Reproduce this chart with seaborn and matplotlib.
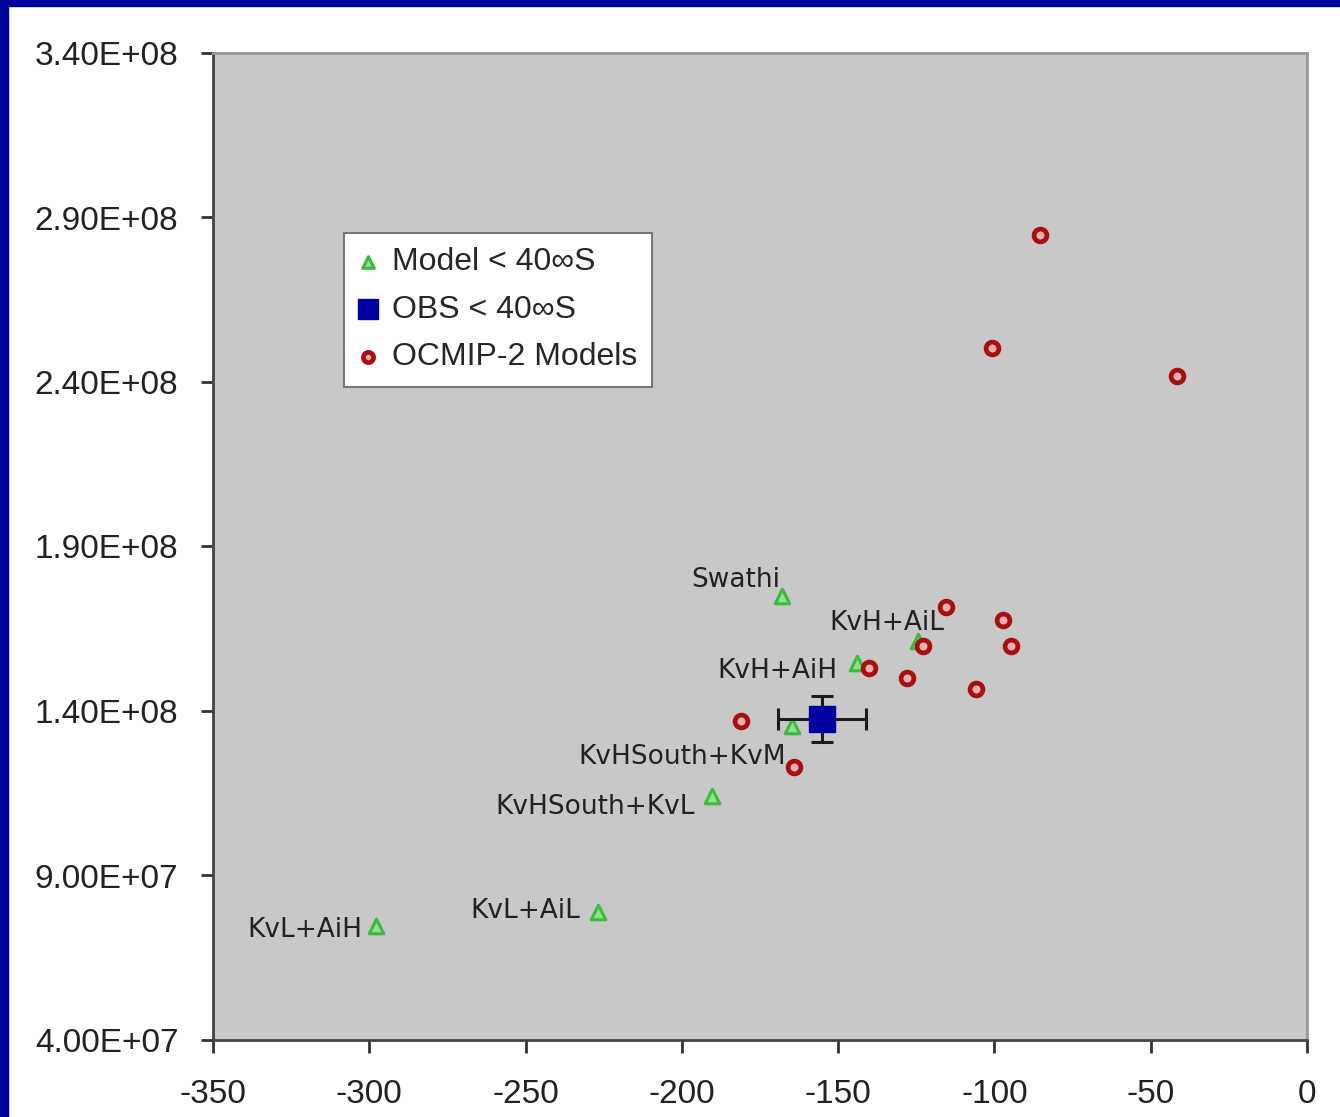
import seaborn as sns
import matplotlib.pyplot as plt
import matplotlib.patches as mpatches
from matplotlib.ticker import FuncFormatter
import pandas as pd

# Model < 40S (labelled green triangles)
model_names = ['Swathi', 'KvH+AiL', 'KvH+AiH', 'KvHSouth+KvM',
               'KvHSouth+KvL', 'KvL+AiL', 'KvL+AiH']
model_x = [-168.0, -124.5, -144.0, -164.8, -190.4, -226.8, -297.9]
model_y = [175.0e6, 161.3e6, 154.6e6, 135.4e6, 114.2e6, 78.9e6, 74.7e6]

# observation with error bars
obs_x = [-155.2]
obs_y = [137.6e6]
obs_xerr = [14.0]
obs_yerr = [7.0e6]

# OCMIP-2 models
ocmip_x = [-85.4, -100.8, -41.6, -115.5, -97.3, -94.7, -122.9,
           -140.2, -128.0, -105.9, -181.1, -164.1]
ocmip_y = [284.7e6, 250.3e6, 241.8e6, 171.6e6, 167.7e6, 159.8e6, 159.8e6,
           153.1e6, 150.0e6, 146.7e6, 137.0e6, 123.0e6]

x_ticks = [-350, -300, -250, -200, -150, -100, -50, 0]
y_ticks = [4.0e7, 9.0e7, 1.4e8, 1.9e8, 2.4e8, 2.9e8, 3.4e8]

# label offsets in pixels (dx, dy) relative to each green point
label_offsets = [(-2, 9), (27, 11), (-19, -15), (-6, -38),
                 (-17, -18), (-18, -6), (-13, -11)]

sns.set_style('ticks')
plt.rcParams['font.family'] = ['Liberation Sans', 'DejaVu Sans']

fig = plt.figure(figsize=(13.4, 11.17), dpi=100, facecolor='white')
ax = fig.add_axes([213 / 1340, 1 - 1040 / 1117, 1094 / 1340, 987 / 1117])
ax.set_facecolor('#c8c8c8')

# blue slide frame
fig.patches.append(mpatches.Rectangle((0, 1 - 6 / 1117), 1, 6 / 1117,
                                      transform=fig.transFigure, color='#00009c', zorder=0))
fig.patches.append(mpatches.Rectangle((0, 0), 8 / 1340, 1,
                                      transform=fig.transFigure, color='#00009c', zorder=0))

green = '#3dbb3d'
sns.scatterplot(x=model_x, y=model_y, ax=ax, marker='^', s=110,
                facecolor='#8fe08f', edgecolor=green, linewidth=2.2,
                label='Model < 40∞S', zorder=3)
ax.errorbar(obs_x, obs_y, xerr=obs_xerr, yerr=obs_yerr, fmt='none',
            ecolor='#1a1a1a', elinewidth=2.2, capsize=8, capthick=2.2, zorder=4)
sns.scatterplot(x=obs_x, y=obs_y, ax=ax, marker='s', s=330,
                color='#0000a0', edgecolor='#0000a0', linewidth=1,
                label='OBS < 40∞S', zorder=5)
sns.scatterplot(x=ocmip_x, y=ocmip_y, ax=ax, marker='o', s=85,
                facecolor='#e8b0b0', edgecolor='#a80f0f', linewidth=3.4,
                label='OCMIP-2 Models', zorder=6)

for name, px, py, (dx, dy) in zip(model_names, model_x, model_y, label_offsets):
    ax.annotate(name, (px, py), xytext=(dx, dy), textcoords='offset pixels',
                ha='right', va='baseline', fontsize=19, color='#222222',
                family='DejaVu Sans', zorder=7)

ax.set_xlim(-350, 0)
ax.set_ylim(4.0e7, 3.4e8)
ax.set_xticks(x_ticks)
ax.set_yticks(y_ticks)
ax.yaxis.set_major_formatter(FuncFormatter(lambda v, p: f'{v:.2E}'))
ax.xaxis.set_major_formatter(FuncFormatter(lambda v, p: f'{int(v)}'))
ax.tick_params(axis='x', direction='out', length=9, width=2, color='#333333',
               labelsize=24, pad=19, labelcolor='#222222')
ax.tick_params(axis='y', direction='out', length=9, width=2, color='#333333',
               labelsize=24, pad=16, labelcolor='#222222')

for side in ['left', 'bottom']:
    ax.spines[side].set_color('#444444')
    ax.spines[side].set_linewidth(2)
for side in ['top', 'right']:
    ax.spines[side].set_visible(True)
    ax.spines[side].set_color('#999999')
    ax.spines[side].set_linewidth(2)

ax.set_xlabel('')
ax.set_ylabel('')

leg = ax.legend(loc='upper left', bbox_to_anchor=(0.12, 0.818), borderaxespad=0,
                fontsize=23, frameon=True, fancybox=False, framealpha=1,
                handlelength=0.6, handletextpad=0.45, labelspacing=0.55,
                borderpad=0.45, markerscale=0.8)
leg.get_frame().set_facecolor('white')
leg.get_frame().set_edgecolor('#777777')
leg.get_frame().set_linewidth(1.5)

fig.savefig('out.png', dpi=100, facecolor='white')
